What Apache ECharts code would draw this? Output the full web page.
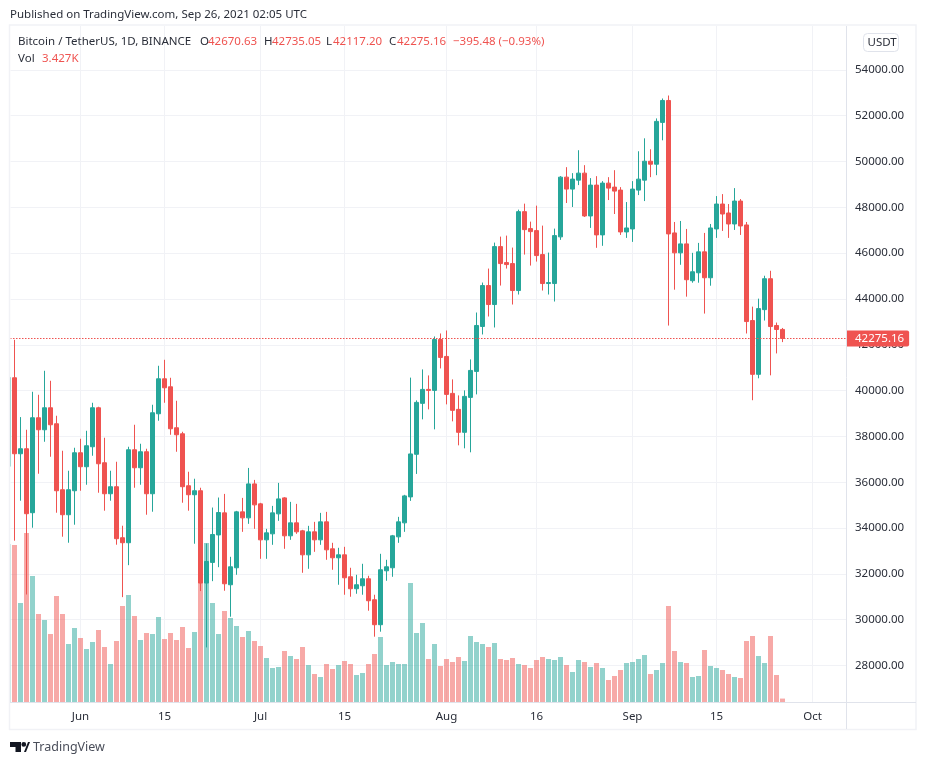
<!DOCTYPE html>
<html>
<head>
<meta charset="utf-8">
<title>BTCUSDT</title>
<script src="https://cdn.jsdelivr.net/npm/echarts@6/dist/echarts.min.js"></script>
<style>
html,body{margin:0;padding:0;background:#fff;}
#chart{width:926px;height:765px;}
</style>
</head>
<body>
<div id="chart"></div>
<script>
var dates = [
  '05-20','05-21','05-22','05-23','05-24','05-25','05-26','05-27','05-28','05-29','05-30','05-31',
  '06-01','06-02','06-03','06-04','06-05','06-06','06-07','06-08','06-09','06-10','06-11','06-12','06-13','06-14','06-15',
  '06-16','06-17','06-18','06-19','06-20','06-21','06-22','06-23','06-24','06-25','06-26','06-27','06-28','06-29','06-30',
  '07-01','07-02','07-03','07-04','07-05','07-06','07-07','07-08','07-09','07-10','07-11','07-12','07-13','07-14','07-15',
  '07-16','07-17','07-18','07-19','07-20','07-21','07-22','07-23','07-24','07-25','07-26','07-27','07-28','07-29','07-30','07-31',
  '08-01','08-02','08-03','08-04','08-05','08-06','08-07','08-08','08-09','08-10','08-11','08-12','08-13','08-14','08-15',
  '08-16','08-17','08-18','08-19','08-20','08-21','08-22','08-23','08-24','08-25','08-26','08-27','08-28','08-29','08-30','08-31',
  '09-01','09-02','09-03','09-04','09-05','09-06','09-07','09-08','09-09','09-10','09-11','09-12','09-13','09-14','09-15',
  '09-16','09-17','09-18','09-19','09-20','09-21','09-22','09-23','09-24','09-25','09-26'
];
var opens = [
  36700,40560,37244,37462,34670,38815,38291,39251,38553,35673,34582,35629,
  37287,36677,37549,39251,36851,35498,35804,33578,33360,37418,36633,37331,35498,38989,40516,
  40167,38378,38116,35847,35455,35629,31600,32500,33700,34663,31525,32266,34707,34445,35927,
  35056,33486,33748,34620,35317,33661,34227,33879,32832,33835,33486,34271,33094,32702,32832,
  31874,31350,31481,31786,30871,29781,32135,32266,33617,34227,35360,37220,39443,40053,40010,42232,
  41491,39879,39181,38179,39704,40838,42799,44586,43758,46286,45589,45545,44368,47812,47071,
  46984,45938,44674,44674,46711,49319,48797,49188,49493,47624,48971,46798,49057,48883,48753,46927,
  47057,48752,49187,50013,49883,51708,52665,46883,46014,46405,44797,45144,46057,44927,47057,
  48144,47753,47274,48274,47231,43058,40710,43535,44884,42841,42670.63
];
var closes = [
  40575,37244,37462,34626,38815,38291,39251,38509,35629,34582,35673,37287,
  36677,37593,39251,36807,35498,35804,33535,33360,37418,36633,37331,35498,39033,40516,40124,
  38335,38073,35804,35455,35629,31600,32541,33719,34678,31568,32309,34707,34445,35927,35012,
  33486,33791,34663,35273,33661,34227,33835,32832,33835,33486,34271,33050,32702,32832,31830,
  31350,31525,31786,30827,29781,32179,32309,33661,34271,35404,37235,39486,40053,40010,42232,41448,
  39835,39138,38179,39748,40881,42843,44586,43758,46286,45545,45502,44368,47812,47027,46940,
  45894,44674,44717,46766,49319,48797,49232,49493,47624,48971,46798,49058,48839,48709,46927,47100,
  48796,49231,50013,49883,51752,52665,46840,46014,46405,44840,45188,46057,44927,47100,48144,
  47709,47274,48274,47187,43014,40710,43579,44884,42797,42667,42275.16
];
var lows = [
  34900,33448,35193,31100,34015,36371,37767,37113,34669,33622,33360,34146,
  35629,35891,37157,35542,34757,35193,33273,30984,32380,35760,35891,34582,34713,38684,39469,
  38073,37331,35106,34757,33316,31250,28790,31682,32292,31263,30130,31961,33835,34184,33966,
  32658,32658,33268,34315,33094,33486,33748,32048,32222,32963,33268,32615,32179,31525,31089,
  31002,31132,31089,30391,29258,29476,31699,31873,33355,33835,35186,36363,38745,39181,38309,40968,
  39399,38658,37612,37481,37307,39835,42450,43235,42756,44586,45327,43758,44194,45938,45458,
  45632,44368,44194,43889,46580,48189,48015,48971,47580,47102,46233,46320,48318,47709,46796,46666,
  46492,48535,48274,49317,49404,50926,42840,44405,45492,44101,44710,44710,43362,44579,46666,
  46970,46666,47014,46796,42493,39580,40537,43058,40667,41623,42117.20
];
var highs = [
  42400,42218,38844,38291,39949,39818,40866,40429,38902,37375,36502,37505,
  37898,38247,39469,39295,37942,36502,36895,34102,37549,38509,37680,37462,39382,41084,41345,
  40560,39556,38204,36458,36153,35760,33326,34896,35333,35491,32745,34750,35317,36625,36102,
  35100,33966,34968,35971,35350,35143,35056,33922,34097,34271,34663,34707,33356,33138,33181,
  32266,31961,32440,31917,31089,32876,32615,33700,34489,35450,40567,39573,40925,40663,42363,42494,
  42625,40489,39791,40010,41361,43409,44717,45327,46461,46722,46766,46243,47899,48161,47376,
  48074,47202,46025,47071,49362,49754,49493,50493,49841,49276,49362,49145,49317,49622,48883,48231,
  49144,50448,51013,50535,51882,52752,52882,47361,47405,47057,46014,46448,46883,47274,48492,
  48578,48144,48839,48361,47361,43666,44014,45014,45231,42971,42735.05
];
var volumes = [
  158,157,99,169,126,88,82,68,106,88,58,74,
  64,53,60,72,55,38,61,96,107,86,62,69,68,85,63,
  69,62,75,54,70,125,159,99,68,91,84,76,65,71,61,
  56,44,34,35,51,46,43,55,37,28,25,38,33,37,41,
  38,27,29,38,48,65,37,40,38,38,119,69,79,43,58,36,
  43,40,45,41,66,60,58,55,59,43,42,44,38,37,34,
  42,45,43,42,45,37,30,42,40,35,39,34,22,26,32,39,
  40,43,47,28,32,39,96,51,40,39,25,26,52,36,34,
  32,28,25,24,61,66,46,39,66,27,3.427
];
var priceTicks = [28000,30000,32000,34000,36000,38000,40000,42000,44000,46000,48000,50000,52000,54000];
var timeTicks = ['06-01','06-15','07-01','07-15','08-01','08-16','09-01','09-15','10-01'];
var timeLabels = ['Jun','15','Jul','15','Aug','16','Sep','15','Oct'];
var lastPrice = 42275.16;

var UP = '#26a69a', DOWN = '#ef5350';
var UP_VOL = 'rgba(38,166,154,0.5)', DOWN_VOL = 'rgba(239,83,80,0.5)';
var FONT = '"Noto Sans", sans-serif';
var INK = '#2a2e39';
var GRID = '#f1f2f6';

// x axis counts days from the first candle
function toDay(d) {
  var t = Date.UTC(2021, parseInt(d.slice(0, 2), 10) - 1, parseInt(d.slice(3), 10));
  return (t - Date.UTC(2021, 4, 20)) / 86400000;
}

var candleData = [], volumeData = [];
for (var i = 0; i < dates.length; i++) {
  var day = toDay(dates[i]);
  candleData.push([day, opens[i], closes[i], lows[i], highs[i]]);
  volumeData.push([day, volumes[i]]);
}

// one candle is 6px, pane starts 1.5px after the centre of the first one
var xMin = 0.25;
var xMax = xMin + 836 / 6;
var tickDays = timeTicks.map(toDay);

function txt(x, y, s, color, size) {
  return {
    type: 'text', x: x, y: y, z: 20, silent: true,
    style: {text: s, fill: color || INK, font: (size || 11.5) + 'px ' + FONT, textVerticalAlign: 'middle'}
  };
}

var chart = echarts.init(document.getElementById('chart'), null, {renderer: 'canvas'});
chart.setOption({
  animation: false,
  backgroundColor: '#fff',
  grid: {left: 10, right: 80, top: 26, bottom: 63},
  xAxis: {
    type: 'value',
    min: xMin,
    max: xMax,
    axisLine: {show: false},
    axisTick: {show: false, customValues: tickDays},
    splitLine: {show: true, lineStyle: {color: GRID, width: 1}},
    axisLabel: {
      customValues: tickDays,
      margin: 9,
      color: INK,
      fontFamily: FONT,
      fontSize: 11.5,
      hideOverlap: false,
      formatter: function (v) {
        return timeLabels[tickDays.indexOf(+v)];
      }
    }
  },
  yAxis: [{
    type: 'value',
    position: 'right',
    min: 26407,
    max: 55916,
    axisLine: {show: false},
    axisTick: {show: false, customValues: priceTicks},
    splitLine: {show: true, lineStyle: {color: GRID, width: 1}},
    axisLabel: {
      customValues: priceTicks,
      margin: 9,
      color: INK,
      fontFamily: FONT,
      fontSize: 11.5,
      formatter: function (v) { return (+v).toFixed(2); }
    }
  }, {
    type: 'value',
    min: 0,
    max: 676,
    show: false,
    splitLine: {show: false}
  }],
  series: [{
    type: 'bar',
    name: 'Vol',
    yAxisIndex: 1,
    barWidth: 5,
    z: 1,
    silent: true,
    data: volumeData,
    itemStyle: {
      color: function (p) {
        return closes[p.dataIndex] >= opens[p.dataIndex] ? UP_VOL : DOWN_VOL;
      }
    }
  }, {
    type: 'candlestick',
    name: 'BTCUSDT',
    yAxisIndex: 0,
    barWidth: 4,
    z: 3,
    silent: true,
    clip: true,
    data: candleData,
    itemStyle: {color: UP, color0: DOWN, borderColor: UP, borderColor0: DOWN, borderWidth: 1},
    markLine: {
      silent: true,
      symbol: 'none',
      animation: false,
      data: [{yAxis: lastPrice}],
      lineStyle: {color: DOWN, type: [1.5, 1.5], width: 1},
      label: {
        show: true,
        position: 'end',
        distance: 0,
        formatter: function () { return lastPrice.toFixed(2); },
        color: '#fff',
        fontFamily: FONT,
        fontSize: 11.5,
        backgroundColor: DOWN,
        borderRadius: [0, 2, 2, 0],
        padding: [2, 5, 2, 9]
      }
    }
  }],
  graphic: [
    // the first candle is cut by the left edge of the pane
    {type: 'rect', z: 10, silent: true, shape: {x: 0, y: 26, width: 10, height: 677}, style: {fill: '#fff'}},
    {type: 'rect', z: 10, silent: true, shape: {x: 10, y: 26, width: 1, height: 677}, style: {fill: 'rgba(255,255,255,0.5)'}},
    // frame and axis separators
    {type: 'rect', z: 11, silent: true, shape: {x: 9.5, y: 25, width: 906.5, height: 704.5},
      style: {fill: 'none', stroke: GRID, lineWidth: 1.5}},
    {type: 'line', z: 11, silent: true, shape: {x1: 10, y1: 702.5, x2: 916, y2: 702.5}, style: {stroke: '#e0e3eb', lineWidth: 1}},
    {type: 'line', z: 11, silent: true, shape: {x1: 846.5, y1: 26, x2: 846.5, y2: 729}, style: {stroke: '#e0e3eb', lineWidth: 1}},
    {type: 'rect', z: 11, silent: true, shape: {x: 863.5, y: 33.5, width: 35, height: 18, r: 4},
      style: {fill: '#fff', stroke: '#e0e3eb', lineWidth: 1}},
    txt(867.5, 42.5, 'USDT'),
    txt(10, 15, 'Published on TradingView.com, Sep 26, 2021 02:05 UTC'),
    txt(18, 42, 'Bitcoin / TetherUS, 1D, BINANCE'),
    txt(200, 42, 'O'), txt(208, 42, '42670.63', DOWN),
    txt(264, 42, 'H'), txt(272, 42, '42735.05', DOWN),
    txt(326, 42, 'L'), txt(333, 42, '42117.20', DOWN),
    txt(389, 42, 'C'), txt(397, 42, '42275.16', DOWN),
    txt(453, 42, '\u2212395.48 (\u22120.93%)', DOWN),
    txt(18, 59, 'Vol'), txt(42, 59, '3.427K', DOWN),
    // logo
    {type: 'polygon', z: 20, silent: true, shape: {points: [[10,742],[21,742],[21,752],[15.5,752],[15.5,747],[10,747]]}, style: {fill: '#131722'}},
    {type: 'circle', z: 20, silent: true, shape: {cx: 23.8, cy: 744.4, r: 2.4}, style: {fill: '#131722'}},
    {type: 'polygon', z: 20, silent: true, shape: {points: [[24,752],[28,742],[30,742],[30,742],[26,752]]}, style: {fill: '#131722'}},
    txt(33, 747.5, 'TradingView', '#4a4e5a', 12.5)
  ]
});
</script>
</body>
</html>
